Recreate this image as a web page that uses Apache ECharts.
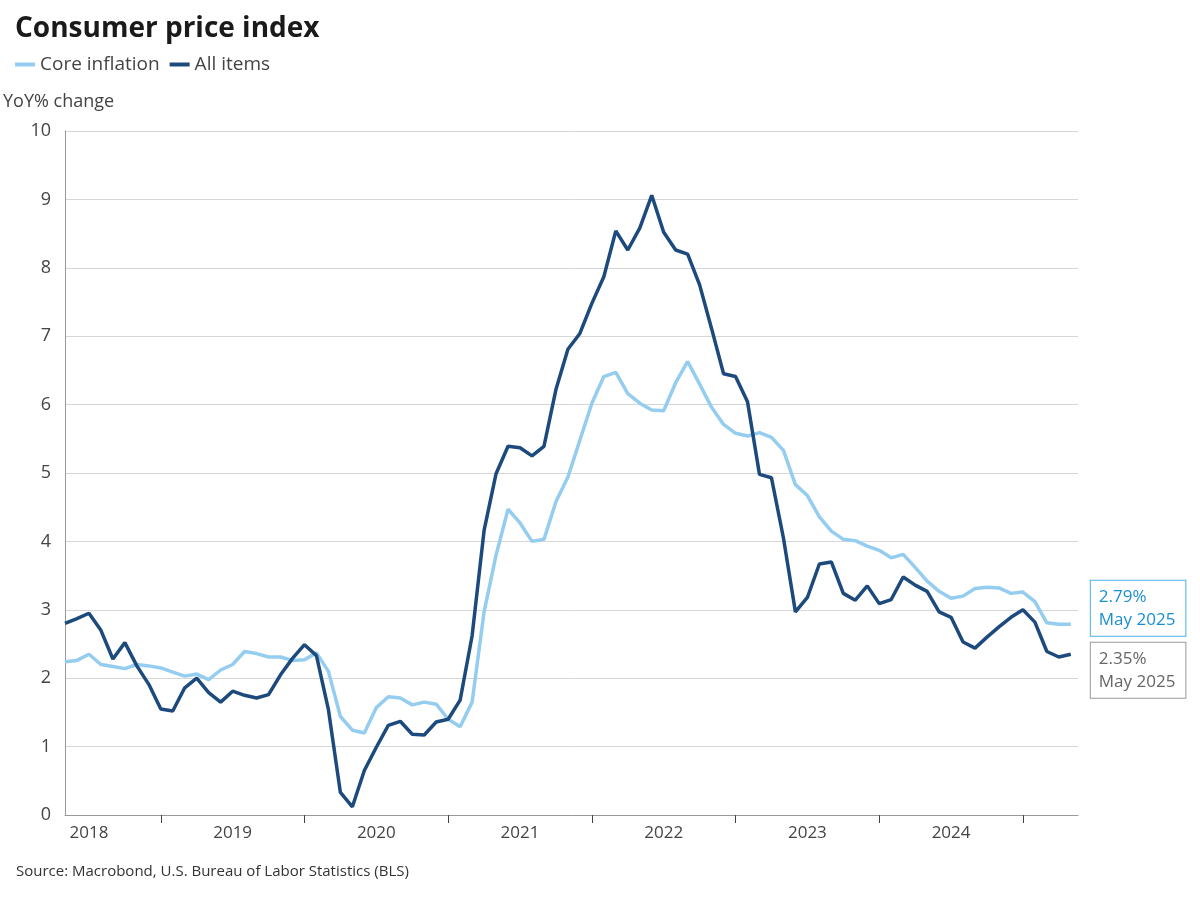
<!DOCTYPE html>
<html>
<head>
<meta charset="utf-8">
<script src="https://cdn.jsdelivr.net/npm/echarts@6/dist/echarts.min.js"></script>
<style>html,body{margin:0;padding:0;background:#fff}#chart{width:1200px;height:900px}</style>
</head>
<body>
<div id="chart"></div>
<script>
// monthly, May 2018 .. May 2025 (index 0 = May 2018)
var startYear = 2018, startMonth = 5;
var yearTicks = [8, 20, 32, 44, 56, 68, 80];        // January of each year
var yearLabelPos = [2, 14, 26, 38, 50, 62, 74];     // mid-year label positions

var allItems = [2.80,2.87,2.95,2.70,2.28,2.52,2.18,1.91,
  1.55,1.52,1.86,2.00,1.79,1.65,1.81,1.75,1.71,1.76,2.05,2.29,
  2.49,2.33,1.54,0.33,0.12,0.65,0.99,1.31,1.37,1.18,1.17,1.36,
  1.40,1.68,2.62,4.16,4.99,5.39,5.37,5.25,5.39,6.22,6.81,7.04,
  7.48,7.87,8.54,8.26,8.58,9.06,8.52,8.26,8.20,7.75,7.11,6.45,
  6.41,6.04,4.98,4.93,4.05,2.97,3.18,3.67,3.70,3.24,3.14,3.35,
  3.09,3.15,3.48,3.36,3.27,2.97,2.89,2.53,2.44,2.60,2.75,2.89,
  3.00,2.82,2.39,2.31,2.35];

var coreInflation = [2.24,2.26,2.35,2.20,2.17,2.14,2.20,2.18,
  2.15,2.09,2.03,2.06,1.98,2.12,2.20,2.39,2.36,2.31,2.31,2.26,
  2.27,2.37,2.10,1.44,1.24,1.20,1.57,1.73,1.71,1.61,1.65,1.62,
  1.40,1.29,1.65,2.97,3.80,4.47,4.27,4.00,4.03,4.58,4.94,5.48,
  6.02,6.41,6.47,6.16,6.02,5.92,5.91,6.32,6.63,6.30,5.96,5.71,
  5.58,5.54,5.59,5.52,5.33,4.83,4.67,4.36,4.15,4.03,4.01,3.93,
  3.87,3.76,3.81,3.62,3.42,3.27,3.17,3.20,3.31,3.33,3.32,3.24,
  3.26,3.12,2.81,2.79,2.79];

function toPairs(arr) {
  return arr.map(function (v, i) { return [i, v]; });
}

var font = '"Open Sans", "Noto Sans", sans-serif';
var chart = echarts.init(document.getElementById('chart'));

var option = {
  animation: false,
  textStyle: { fontFamily: font },
  title: {
    text: 'Consumer price index',
    left: 10, top: 10,
    textStyle: { fontSize: 28, fontWeight: 'bold', color: '#1a1a1a', fontFamily: font }
  },
  legend: {
    left: 10, top: 50,
    itemWidth: 20, itemHeight: 4, itemGap: 10,
    icon: 'rect',
    textStyle: { fontSize: 19, color: '#444', fontFamily: font },
    data: ['Core inflation', 'All items']
  },
  grid: { left: 62, right: 122, top: 131, bottom: 85 },
  xAxis: {
    type: 'value',
    min: 0, max: 84.6,
    axisLine: { show: true, lineStyle: { color: '#999' } },
    splitLine: { show: false },
    axisTick: { show: true, customValues: yearTicks, length: 8, lineStyle: { color: '#444' } },
    axisLabel: {
      customValues: yearLabelPos,
      fontSize: 17, color: '#444', margin: 10,
      formatter: function (v) { return String(startYear + Math.floor((v + startMonth - 1) / 12)); }
    }
  },
  yAxis: {
    type: 'value',
    min: 0, max: 10, interval: 1,
    name: 'YoY% change',
    nameLocation: 'end',
    nameGap: 20,
    nameTextStyle: { fontSize: 18, color: '#444', align: 'left', padding: [0, 0, 0, -62] },
    axisLine: { show: true, lineStyle: { color: '#999' } },
    axisTick: { show: false },
    axisLabel: { fontSize: 18, color: '#444', margin: 14 },
    splitLine: { lineStyle: { color: '#d6d6d6' } }
  },
  series: [
    {
      name: 'Core inflation', type: 'line', data: toPairs(coreInflation),
      showSymbol: false, symbol: 'none',
      lineStyle: { width: 3.5, color: '#94cdf0' }, itemStyle: { color: '#94cdf0' },
      endLabel: {
        show: true,
        formatter: '2.79%\nMay 2025',
        color: '#1a8fd0', fontSize: 17, lineHeight: 23,
        backgroundColor: '#fff', borderColor: '#4ab0e6', borderWidth: 1,
        padding: [5, 10, 4, 8], distance: 20, offset: [0, -16]
      }
    },
    {
      name: 'All items', type: 'line', data: toPairs(allItems),
      showSymbol: false, symbol: 'none',
      lineStyle: { width: 3.5, color: '#1d4a7c' }, itemStyle: { color: '#1d4a7c' },
      endLabel: {
        show: true,
        formatter: '2.35%\nMay 2025',
        color: '#666', fontSize: 17, lineHeight: 23,
        backgroundColor: '#fff', borderColor: '#999', borderWidth: 1,
        padding: [5, 10, 4, 8], distance: 20, offset: [0, 16]
      }
    }
  ],
  graphic: [{
    type: 'text', left: 16, top: 864,
    style: { text: 'Source: Macrobond, U.S. Bureau of Labor Statistics (BLS)', fontSize: 15, fill: '#333', fontFamily: font }
  }]
};
chart.setOption(option);
</script>
</body>
</html>
